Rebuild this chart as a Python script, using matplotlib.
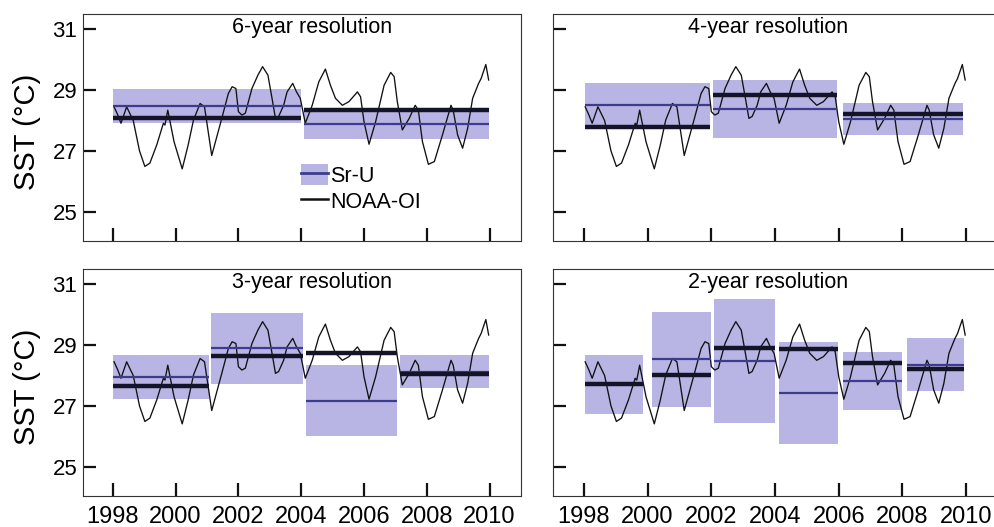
import matplotlib
matplotlib.use('Agg')
import matplotlib.pyplot as plt
import matplotlib.patches as mpatches
import matplotlib.lines as mlines

plt.rcParams['font.family'] = ['Liberation Sans', 'DejaVu Sans']

# NOAA-OI SST curve (decimal year, deg C)
sst_time = [1998.04, 1998.15, 1998.26, 1998.44, 1998.65, 1998.85, 1999.02, 1999.18, 1999.40,
            1999.61, 1999.66, 1999.75, 1999.95, 2000.21, 2000.40, 2000.57, 2000.78, 2000.92,
            2001.15, 2001.47, 2001.68, 2001.80, 2001.92, 2002.00, 2002.11, 2002.22, 2002.43,
            2002.62, 2002.77, 2002.94, 2003.07, 2003.18, 2003.28, 2003.44, 2003.55, 2003.73,
            2003.85, 2003.97, 2004.13, 2004.35, 2004.56, 2004.77, 2004.93, 2005.09, 2005.31,
            2005.52, 2005.79, 2005.89, 2006.00, 2006.16, 2006.37, 2006.64, 2006.85, 2006.96,
            2007.06, 2007.22, 2007.44, 2007.63, 2007.73, 2007.86, 2008.05, 2008.24, 2008.50,
            2008.77, 2008.84, 2008.98, 2009.14, 2009.30, 2009.46, 2009.65, 2009.73, 2009.88,
            2009.97]
sst_value = [28.45, 28.20, 27.91, 28.45, 28.00, 27.00, 26.49, 26.60, 27.20,
             27.91, 27.85, 28.34, 27.30, 26.41, 27.20, 28.02, 28.56, 28.45,
             26.85, 28.07, 28.89, 29.11, 29.05, 28.29, 28.18, 28.24, 29.05,
             29.49, 29.77, 29.49, 28.73, 28.07, 28.13, 28.50, 28.94, 29.22,
             28.94, 28.73, 27.91, 28.50, 29.27, 29.69, 29.16, 28.73, 28.50,
             28.62, 28.94, 28.78, 27.96, 27.22, 27.96, 29.16, 29.58, 29.44,
             28.62, 27.69, 28.07, 28.50, 28.34, 27.31, 26.56, 26.65, 27.53,
             28.50, 28.34, 27.53, 27.09, 27.74, 28.73, 29.22, 29.38, 29.84,
             29.33]

# block averages for each resolution
titles = ['6-year resolution', '4-year resolution', '3-year resolution', '2-year resolution']

blk_start = [[1998.0, 2004.1],
             [1998.05, 2002.05, 2006.13],
             [1998.0, 2001.12, 2004.15, 2007.15],
             [1998.05, 2000.13, 2002.08, 2004.14, 2006.13, 2008.14]]
blk_end = [[2003.98, 2009.98],
           [2001.96, 2005.95, 2009.9],
           [2001.05, 2004.05, 2007.06, 2009.98],
           [1999.85, 2001.98, 2004.0, 2005.99, 2008.0, 2009.94]]
sru_mean = [[28.48, 27.90],
            [28.51, 28.38, 28.05],
            [27.96, 28.89, 27.17, 28.12],
            [27.71, 28.53, 28.48, 27.42, 27.82, 28.36]]
sru_err = [[0.55, 0.50],
           [0.71, 0.94, 0.52],
           [0.72, 1.17, 1.17, 0.54],
           [0.98, 1.56, 2.05, 1.68, 0.95, 0.87]]
noaa_mean = [[28.07, 28.34],
             [27.80, 28.84, 28.21],
             [27.66, 28.65, 28.73, 28.05],
             [27.71, 28.03, 28.89, 28.86, 28.42, 28.21]]

year_ticks = [1998, 2000, 2002, 2004, 2006, 2008, 2010]
sst_ticks = [25, 27, 29, 31]

band_color = '#b8b4e4'
sru_color = '#3c3c8c'
noaa_color = '#141428'

W, H = 995, 527
fig = plt.figure(figsize=(W / 100, H / 100), dpi=100)

# axes rectangles in pixels: left, top, width, height
boxes = [(83, 14, 438, 227), (553, 14, 445, 227),
         (83, 269, 438, 227), (553, 269, 445, 227)]
xlims = [(1997.05, 2011.0), (1997.03, 2011.0)]
title_x = [0.523, 0.483]

for i, (l, t, w, h) in enumerate(boxes):
    ax = fig.add_axes([l / W, 1 - (t + h) / H, w / W, h / H])
    col = i % 2
    row = i // 2

    for s, e, m, err in zip(blk_start[i], blk_end[i], sru_mean[i], sru_err[i]):
        ax.fill_between([s, e], m - err, m + err, color=band_color, lw=0, zorder=1)
        ax.plot([s, e], [m, m], color=sru_color, lw=1.6, zorder=3, solid_capstyle='butt')
    ax.plot(sst_time, sst_value, color='#111111', lw=0.95, zorder=2)
    for s, e, m in zip(blk_start[i], blk_end[i], noaa_mean[i]):
        ax.plot([s, e], [m, m], color=noaa_color, lw=3.2, zorder=4, solid_capstyle='butt')

    ax.set_xlim(*xlims[col])
    ax.set_ylim(24.04, 31.5)
    ax.set_xticks(year_ticks)
    ax.set_yticks(sst_ticks)
    ax.tick_params(direction='in', length=9.5, width=1.6, color='#111111')
    ax.tick_params(axis='x', labelsize=17, pad=7)
    ax.tick_params(axis='y', labelsize=16, pad=4)
    if row == 0:
        ax.set_xticklabels([])
    if col == 1:
        ax.set_yticklabels([])
    else:
        ax.set_ylabel('SST (°C)', fontsize=21)
        ax.yaxis.set_label_coords(-0.097, 0.48)
    for sp in ax.spines.values():
        sp.set_linewidth(0.8)
        sp.set_color('#333333')

    ax.text(title_x[col], 0.94, titles[i], transform=ax.transAxes,
            ha='center', va='center', fontsize=15.5)

    if i == 0:
        sru_handle = (mpatches.Patch(facecolor=band_color, edgecolor='none'),
                      mlines.Line2D([], [], color=sru_color, lw=2))
        noaa_handle = mlines.Line2D([], [], color='#111111', lw=1.8)
        ax.legend([sru_handle, noaa_handle], ['Sr-U', 'NOAA-OI'],
                  loc='upper left', bbox_to_anchor=(0.468, 0.395), frameon=False,
                  fontsize=15.5, handlelength=1.25, handleheight=1.1,
                  handletextpad=0.1, labelspacing=0.15, borderpad=0.1)

fig.savefig('out.png', dpi=100)
